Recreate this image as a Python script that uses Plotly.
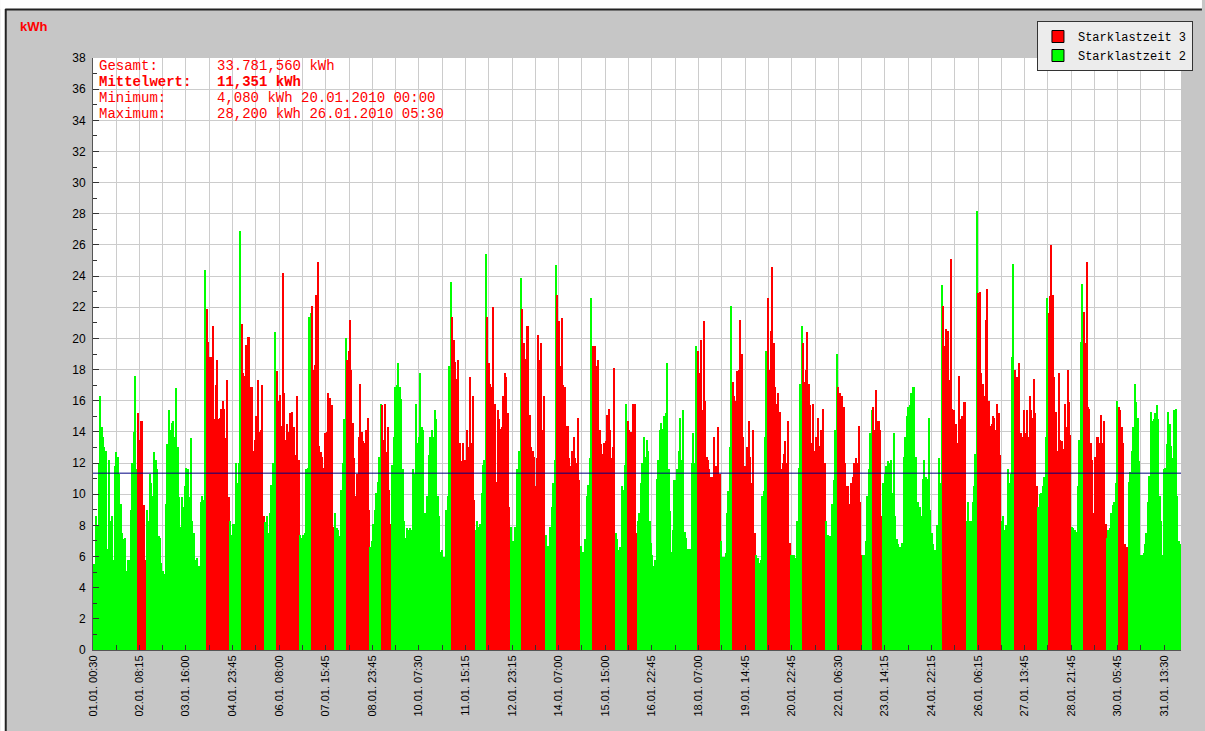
import plotly.graph_objects as go

# ---------------- data (hourly envelope values in kWh) -------------
# hour grid: bar k of a day covers hours [k, k+1) on the chart grid
d01 = [5.5, 8.6, 8.0, 12.0, 16.3, 14.3, 13.7, 13.0, 12.8, 6.5, 12.2, 8.3, 8.6, 5.8, 11.8, 12.7, 12.4, 11.3, 9.4, 7.5, 7.1, 7.2, 5.1, 5.8]
d02 = [5.8, 9.0, 12.0, 14.0, 17.6, 11.6, 15.2, 13.5, 14.7, 14.7, 9.3, 5.8, 9.0, 8.3, 11.3, 10.7, 9.9, 12.7, 12.2, 11.6, 7.3, 7.2, 5.6, 5.1]
d03 = [4.9, 9.4, 13.2, 15.4, 14.1, 14.6, 14.7, 13.7, 16.8, 13.0, 9.8, 7.9, 9.8, 9.2, 10.5, 11.7, 11.6, 9.8, 13.6, 8.3, 7.5, 5.8, 5.9, 5.3]
d04 = [5.4, 9.5, 9.9, 9.6, 24.4, 21.9, 19.8, 18.8, 18.8, 20.8, 14.8, 17.0, 18.6, 14.8, 14.9, 15.5, 16.0, 15.5, 13.6, 17.3, 9.8, 8.3, 7.4, 8.1]
d05 = [8.1, 12.0, 10.7, 12.0, 26.9, 20.9, 17.8, 17.6, 19.6, 20.1, 20.1, 16.9, 16.9, 12.8, 13.5, 15.0, 17.3, 14.0, 14.1, 17.0, 8.6, 8.2, 8.6, 7.5]
d06 = [8.8, 10.6, 12.0, 10.7, 20.4, 17.9, 16.0, 16.4, 14.4, 24.2, 16.5, 13.5, 14.5, 14.0, 15.2, 15.3, 13.7, 14.3, 12.5, 16.3, 12.2, 7.4, 7.2, 7.4]
d07 = [7.5, 11.6, 11.7, 21.4, 21.6, 22.1, 18.0, 18.3, 22.8, 24.9, 13.1, 12.7, 12.4, 11.7, 13.9, 14.0, 16.5, 16.2, 13.0, 15.7, 7.9, 8.8, 7.8, 7.7]
d08 = [7.3, 10.3, 12.0, 14.8, 20.0, 18.6, 19.2, 21.2, 18.0, 14.6, 12.3, 9.9, 11.3, 13.7, 17.1, 14.0, 13.4, 13.3, 14.1, 14.9, 9.0, 6.6, 7.0, 8.1]
d09 = [9.0, 10.1, 10.8, 12.4, 15.8, 15.7, 13.5, 15.8, 12.7, 14.3, 10.3, 8.1, 11.9, 13.7, 16.9, 17.0, 18.4, 16.9, 16.1, 11.6, 8.3, 7.2, 7.8, 7.7]
d10 = [7.8, 7.7, 11.6, 11.3, 15.8, 13.3, 13.7, 17.8, 14.3, 14.1, 8.8, 7.1, 9.9, 12.5, 13.7, 14.1, 13.7, 15.4, 14.8, 9.9, 8.6, 6.3, 6.4, 6.0]
d11 = [6.0, 9.0, 9.9, 18.2, 23.6, 21.4, 19.9, 18.5, 17.4, 18.6, 13.3, 12.1, 13.3, 10.7, 12.2, 14.1, 13.0, 17.5, 13.3, 16.3, 9.6, 7.7, 8.3, 7.9]
d12 = [8.1, 10.1, 11.9, 12.2, 25.4, 21.4, 18.4, 17.1, 16.9, 22.0, 15.8, 10.8, 15.4, 14.8, 14.2, 14.3, 16.3, 17.8, 17.5, 15.2, 9.2, 7.9, 7.0, 7.0]
d13 = [7.9, 11.6, 9.6, 12.8, 23.9, 21.9, 19.7, 18.7, 20.8, 20.8, 15.1, 13.0, 12.8, 12.4, 10.5, 12.3, 20.2, 18.6, 19.7, 14.1, 16.3, 7.4, 6.7, 6.7]
d14 = [7.9, 9.2, 10.7, 12.2, 24.7, 22.8, 21.1, 18.2, 21.3, 17.0, 16.9, 14.4, 14.4, 12.3, 11.8, 12.8, 13.7, 12.3, 12.0, 14.9, 10.9, 6.7, 6.3, 6.3]
d15 = [7.1, 9.9, 10.6, 12.3, 22.6, 19.5, 17.3, 19.5, 18.2, 18.6, 14.1, 13.2, 12.6, 13.3, 13.4, 15.1, 15.5, 14.1, 12.3, 13.0, 18.1, 7.5, 7.1, 6.4]
d16 = [6.6, 10.5, 10.3, 11.9, 15.8, 14.7, 14.1, 14.0, 14.0, 15.8, 15.8, 7.5, 8.3, 8.8, 10.7, 12.0, 13.7, 12.4, 13.5, 12.8, 8.3, 6.9, 6.1, 5.4]
d17 = [5.8, 11.0, 12.2, 14.1, 14.6, 14.2, 15.0, 15.2, 18.4, 11.6, 8.9, 6.3, 7.7, 10.9, 10.9, 11.6, 12.8, 14.9, 12.2, 15.4, 7.6, 7.2, 6.5, 6.5]
d18 = [6.5, 12.0, 13.9, 12.0, 19.5, 19.2, 17.8, 19.9, 15.4, 21.1, 16.0, 12.4, 12.2, 11.6, 11.1, 11.1, 13.7, 11.8, 11.8, 14.3, 11.3, 7.0, 6.0, 6.0]
d19 = [6.2, 8.8, 10.2, 13.0, 22.1, 17.2, 16.3, 16.0, 17.9, 18.0, 21.2, 19.0, 13.7, 11.8, 11.7, 13.0, 14.7, 12.4, 10.7, 14.1, 7.5, 6.1, 5.9, 5.6]
d20 = [5.8, 9.9, 10.2, 13.7, 19.2, 22.6, 18.0, 20.5, 24.6, 19.7, 16.9, 15.8, 16.5, 15.3, 11.6, 12.0, 12.6, 13.4, 12.0, 14.7, 6.9, 6.1, 6.1, 6.1]
d21 = [5.9, 8.3, 11.7, 17.1, 20.8, 19.7, 17.2, 18.0, 20.4, 17.1, 15.7, 13.3, 15.8, 12.8, 13.7, 14.9, 13.1, 14.1, 11.7, 15.5, 12.0, 8.3, 7.4, 7.3]
d22 = [7.3, 9.4, 10.9, 14.1, 19.0, 16.9, 16.5, 16.3, 16.3, 15.6, 12.0, 10.5, 10.5, 9.4, 10.7, 11.1, 12.0, 12.3, 12.0, 14.4, 9.5, 6.1, 6.1, 6.1]
d23 = [7.0, 9.9, 11.6, 13.9, 15.4, 15.6, 14.1, 16.7, 14.7, 14.7, 14.1, 8.6, 10.7, 11.3, 11.8, 12.1, 12.0, 12.2, 10.1, 13.9, 8.6, 7.1, 6.8, 6.6]
d24 = [6.6, 6.9, 12.4, 13.7, 15.0, 15.6, 15.7, 16.5, 16.9, 16.9, 12.4, 8.8, 9.5, 9.2, 8.6, 11.0, 12.2, 11.1, 11.0, 14.9, 9.0, 7.5, 6.8, 6.4]
d25 = [6.4, 8.0, 12.3, 10.7, 23.4, 22.1, 19.5, 20.6, 20.5, 17.3, 25.1, 15.5, 15.4, 12.2, 14.5, 13.3, 17.6, 14.8, 15.0, 15.9, 15.9, 8.3, 9.5, 8.3]
d26 = [8.3, 9.5, 10.5, 12.6, 28.2, 22.9, 23.0, 17.8, 17.1, 16.3, 21.2, 23.2, 16.0, 14.4, 14.5, 15.0, 14.9, 14.1, 15.8, 15.2, 12.5, 8.3, 8.6, 7.7]
d27 = [8.0, 11.6, 10.7, 11.3, 18.8, 24.8, 18.0, 17.5, 17.5, 18.4, 13.9, 13.7, 15.4, 13.9, 15.4, 13.7, 16.3, 15.4, 14.9, 17.4, 15.2, 10.5, 9.2, 10.0]
d28 = [10.1, 10.5, 11.1, 13.7, 22.6, 21.6, 22.7, 26.0, 22.8, 17.5, 15.3, 12.8, 17.8, 13.5, 13.4, 12.9, 15.8, 14.3, 18.0, 15.9, 13.8, 7.9, 7.8, 7.7]
d29 = [7.6, 10.5, 13.5, 19.8, 23.5, 21.7, 19.7, 24.9, 15.6, 15.5, 13.3, 12.2, 8.8, 12.4, 13.7, 13.7, 13.3, 15.1, 13.3, 14.7, 8.1, 7.2, 7.7, 7.8]
d30 = [8.8, 9.3, 9.5, 10.7, 16.0, 15.6, 15.4, 14.3, 13.3, 6.8, 6.6, 6.6, 10.8, 11.4, 12.8, 14.3, 17.1, 15.9, 14.9, 12.1, 6.1, 6.1, 6.2, 6.8]
d31 = [7.5, 9.5, 11.2, 15.3, 14.7, 14.8, 15.2, 15.7, 14.8, 9.9, 8.3, 6.1, 11.6, 11.7, 13.2, 15.3, 14.5, 13.1, 12.3, 15.4, 15.5, 9.9, 7.0, 6.8]

days = [d01, d02, d03, d04, d05, d06, d07, d08, d09, d10, d11, d12, d13, d14, d15, d16,
        d17, d18, d19, d20, d21, d22, d23, d24, d25, d26, d27, d28, d29, d30, d31]

# Starklastzeit 3 periods: (day of month, first grid hour, end grid hour)
red_periods = [(2, 6, 12), (4, 5, 21), (5, 5, 21), (6, 5, 21), (7, 5, 21), (8, 5, 21), (9, 5, 12),
               (11, 5, 21), (12, 5, 21), (13, 5, 21), (14, 5, 21), (15, 5, 21), (16, 5, 12),
               (18, 5, 21), (19, 5, 21), (20, 5, 21), (21, 5, 21), (22, 5, 22), (23, 5, 12),
               (25, 5, 21), (26, 5, 21), (27, 6, 22), (28, 5, 21), (29, 5, 21), (30, 5, 12)]

tick_labels = ["01.01. 00:30", "02.01. 08:15", "03.01. 16:00", "04.01. 23:45", "06.01. 08:00",
               "07.01. 15:45", "08.01. 23:45", "10.01. 07:30", "11.01. 15:15", "12.01. 23:15",
               "14.01. 07:00", "15.01. 15:00", "16.01. 22:45", "18.01. 07:00", "19.01. 14:45",
               "20.01. 22:45", "22.01. 06:30", "23.01. 14:15", "24.01. 22:15", "26.01. 06:15",
               "27.01. 13:45", "28.01. 21:45", "30.01. 05:45", "31.01. 13:30"]

series_names = ["Starklastzeit 3", "Starklastzeit 2"]
series_colors = ["#ff0000", "#00ff00"]

stat_labels = ["Gesamt:", "Mittelwert:", "Minimum:", "Maximum:"]
stat_values = ["33.781,560 kWh", "11,351 kWh", "4,080 kWh 20.01.2010 00:00", "28,200 kWh 26.01.2010 05:30"]
mean_value = 11.351

# ---------------- build ----------------
W, H = 1205, 731
L, R, T, B = 93, 21, 58, 81
PW, PH = W - L - R, H - T - B


def px2x(px):
    return (px - L) / PW


def py2y(py):
    return (H - B - py) / PH


red_set = set()
for day, h0, h1 in red_periods:
    for h in range(h0, h1):
        red_set.add((day, h))

xs, ys, cols = [], [], []
for di, vals in enumerate(days):
    day = di + 1
    for h, v in enumerate(vals):
        xs.append(di * 24 + h + 0.5)
        ys.append(v)
        cols.append(series_colors[0] if (day, h) in red_set else series_colors[1])


def label_to_grid_hour(lbl):
    dm, hm = lbl.split(" ")
    d = int(dm.split(".")[0])
    hh, mm = hm.split(":")
    return (d - 1) * 24 + int(hh) + int(mm) / 60.0 - 1.0  # grid starts at 01:00


major = [label_to_grid_hour(s) for s in tick_labels]
tickvals, ticktext = [], []
for i, m in enumerate(major):
    tickvals.append(m)
    ticktext.append(tick_labels[i])
    if i + 1 < len(major):
        tickvals.append((m + major[i + 1]) / 2)
        ticktext.append("")

fig = go.Figure()
fig.add_trace(go.Bar(x=xs, y=ys, width=1.0, marker=dict(color=cols, line=dict(width=0)),
                     showlegend=False, hoverinfo="x+y"))
for name, c in zip(series_names, series_colors):
    fig.add_trace(go.Bar(x=[None], y=[None], name=name,
                         marker=dict(color=c, line=dict(color="#000000", width=1))))

shapes = [
    dict(type="line", xref="paper", yref="y", x0=0, x1=1, y0=mean_value, y1=mean_value,
         line=dict(color="#000080", width=1)),
    dict(type="rect", xref="paper", yref="paper", x0=px2x(0), x1=px2x(W), y0=py2y(0), y1=py2y(9),
         fillcolor="white", line=dict(width=0)),
    dict(type="rect", xref="paper", yref="paper", x0=px2x(0), x1=px2x(5), y0=py2y(0), y1=py2y(H),
         fillcolor="white", line=dict(width=0)),
    dict(type="line", xref="paper", yref="paper", x0=px2x(5), x1=px2x(W), y0=py2y(9.5), y1=py2y(9.5),
         line=dict(color="#222222", width=2)),
    dict(type="line", xref="paper", yref="paper", x0=px2x(5.5), x1=px2x(5.5), y0=py2y(9), y1=py2y(H),
         line=dict(color="#222222", width=2)),
]

mono = "Liberation Mono, Courier New, monospace"
annotations = [dict(text="<b>kWh</b>", xref="paper", yref="paper", x=px2x(18), y=py2y(27),
                    xanchor="left", yanchor="middle", showarrow=False,
                    font=dict(family="Liberation Sans, Arial", size=13, color="#ff0000"))]
line_y = [66, 82, 98, 114]
for i, (lab, val) in enumerate(zip(stat_labels, stat_values)):
    bold = i == 1
    annotations.append(dict(text=f"<b>{lab}</b>" if bold else lab, xref="paper", yref="paper",
                            x=px2x(98), y=py2y(line_y[i]), xanchor="left", yanchor="middle",
                            showarrow=False, borderpad=0,
                            font=dict(family=mono, size=14, color="#ff0000")))
    annotations.append(dict(text=f"<b>{val}</b>" if bold else val, xref="paper", yref="paper",
                            x=px2x(216), y=py2y(line_y[i]), xanchor="left", yanchor="middle",
                            showarrow=False, borderpad=0,
                            font=dict(family=mono, size=14, color="#ff0000")))

fig.update_layout(
    width=W, height=H,
    margin=dict(l=L, r=R, t=T, b=B, pad=0),
    paper_bgcolor="#c6c6c6", plot_bgcolor="white",
    bargap=0, barmode="overlay",
    shapes=shapes, annotations=annotations,
    showlegend=True,
    legend=dict(x=px2x(1196), xanchor="right", y=py2y(21), yanchor="top",
                bgcolor="#ececec", bordercolor="#333333", borderwidth=1,
                font=dict(family=mono, size=12, color="#000000"),
                itemwidth=30, tracegroupgap=0),
    font=dict(family="Liberation Sans, Arial, sans-serif", color="#000000"),
)
fig.update_xaxes(range=[-0.5, 31 * 24], tickmode="array", tickvals=tickvals, ticktext=ticktext,
                 tickangle=-90, tickfont=dict(size=11), ticks="inside", ticklen=5,
                 tickcolor="#333333", showgrid=True, gridcolor="#cccccc", gridwidth=1,
                 showline=True, linecolor="#555555", linewidth=1, zeroline=False,
                 automargin=False, fixedrange=True)
fig.update_yaxes(range=[0, 38], tickmode="linear", tick0=0, dtick=2, ticks="inside", ticklen=6,
                 tickcolor="#333333", tickfont=dict(size=12), showgrid=True, gridcolor="#cccccc",
                 gridwidth=1, showline=True, linecolor="#555555", linewidth=1, zeroline=False,
                 minor=dict(dtick=1, ticks="inside", ticklen=4, tickcolor="#333333", showgrid=False),
                 ticklabelstandoff=4, automargin=False, fixedrange=True)

fig.write_html("out.html", config={"displayModeBar": False},
               post_script="document.body.style.margin='0';")
